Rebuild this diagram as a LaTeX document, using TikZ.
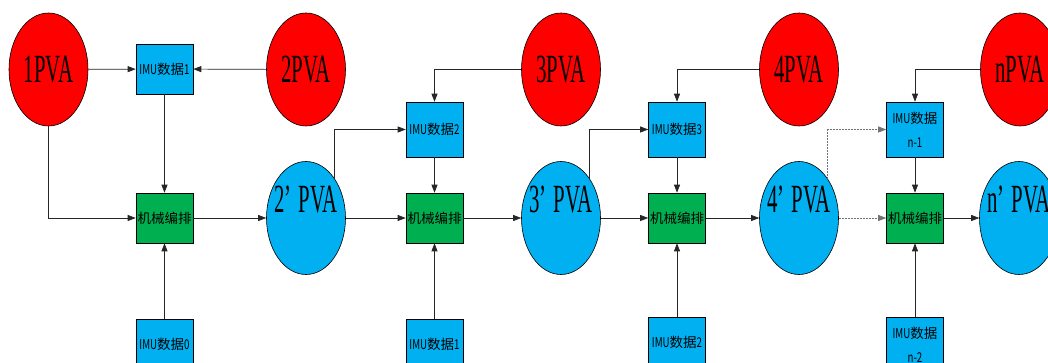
\documentclass[tikz,border=0pt]{standalone}
\usepackage{fontspec}
\setmainfont{Liberation Serif}
\newfontfamily\cjk{Noto Sans CJK SC}
\usetikzlibrary{shapes.geometric,arrows.meta}
\definecolor{pvared}{HTML}{FF0000}
\definecolor{pvablue}{HTML}{00B0F0}
\definecolor{mechgreen}{HTML}{00B050}
\newcommand{\pva}[1]{\scalebox{0.52}[1]{\fontsize{40}{40}\selectfont #1}}
\newcommand{\nar}[1]{\scalebox{0.72}[1]{#1}}
\tikzset{
  pvanode/.style={ellipse, draw=black, line width=0.6pt, minimum width=79pt, minimum height=113pt, inner sep=0pt},
  truepva/.style={pvanode, fill=pvared},
  estpva/.style={pvanode, fill=pvablue},
  databox/.style={draw=black, line width=0.6pt, fill=pvablue, minimum width=57pt, minimum height=50pt, inner sep=0pt, align=center, font=\cjk\fontsize{13.5}{24}\selectfont},
  tallbox/.style={databox, minimum height=55pt},
  mechbox/.style={databox, fill=mechgreen},
  link/.style={draw=black!85, line width=0.7pt, -{Triangle[length=8pt,width=6pt]}},
  weak/.style={link, draw=black!55, dash pattern=on 2pt off 1pt},
  estlabel/.style={yshift=18pt}
}
\begin{document}
\begin{tikzpicture}[x=1pt,y=-1pt]
\useasboundingbox (0,0) rectangle (1048,363);
\clip (0,0) rectangle (1048,363);
\fill[white] (0,0) rectangle (1048,363);

% reference solutions (red)
\node[truepva] (p1) at (48.5,69.5) {\pva{1PVA}};
\node[truepva] (p2) at (306,69.5) {\pva{2PVA}};
\node[truepva] (p3) at (561,69.5) {\pva{3PVA}};
\node[truepva] (p4) at (799,69.5) {\pva{4PVA}};
\node[truepva] (pn) at (1020,69.5) {\pva{nPVA}};

% propagated solutions (blue)
\node[estpva, label={[estlabel]center:\pva{2’\hspace{0.35em}PVA}}] (q2) at (306,218) {};
\node[estpva, label={[estlabel]center:\pva{3’\hspace{0.35em}PVA}}] (q3) at (561,218) {};
\node[estpva, label={[estlabel]center:\pva{4’\hspace{0.35em}PVA}}] (q4) at (799,218) {};
\node[estpva, label={[estlabel]center:\pva{n’\hspace{0.35em}PVA}}] (qn) at (1019,218) {};

% IMU data blocks
\node[databox] (i1) at (164.5,69) {\nar{IMU}数据\nar{1}};
\node[tallbox] (i2) at (434.5,129.5) {\nar{IMU}数据\nar{2}};
\node[tallbox] (i3) at (677,129.5) {\nar{IMU}数据\nar{3}};
\node[tallbox] (i4) at (915,129.5) {\nar{IMU}数据\\\nar{n-1}};

\node[databox] (b0) at (164.5,344) {\nar{IMU}数据\nar{0}};
\node[databox] (b1) at (434.5,344) {\nar{IMU}数据\nar{1}};
\node[databox] (b2) at (677,342) {\nar{IMU}数据\nar{2}};
\node[tallbox] (b3) at (915,344.5) {\nar{IMU}数据\\\nar{n-2}};

% mechanization blocks
\node[mechbox] (m1) at (164.5,218) {机械编排};
\node[mechbox] (m2) at (434.5,218) {机械编排};
\node[mechbox] (m3) at (677,218) {机械编排};
\node[mechbox] (m4) at (915,218) {机械编排};

% stage 1
\path[link] (p1) -- (i1);
\path[link] (p2) -- (i1);
\path[link] (i1) -- (m1);
\path[link] (p1.south) |- (m1.west);
\path[link] (b0) -- (m1);
\path[link] (m1) -- (q2);

% stage 2
\path[link] (q2.54) |- (i2.west);
\path[link] (p3.west) -| (i2.north);
\path[link] (i2) -- (m2);
\path[link] (q2) -- (m2);
\path[link] (b1) -- (m2);
\path[link] (m2) -- (q3);

% stage 3
\path[link] (q3.54) |- (i3.west);
\path[link] (p4.west) -| (i3.north);
\path[link] (i3) -- (m3);
\path[link] (q3) -- (m3);
\path[link] (b2) -- (m3);
\path[link] (m3) -- (q4);

% stage n
\path[weak] (q4.54) |- (i4.west);
\path[link] (pn.west) -| (i4.north);
\path[link] (i4) -- (m4);
\path[weak] (q4) -- (m4);
\path[link] (b3) -- (m4);
\path[link] (m4) -- (qn);
\end{tikzpicture}
\end{document}
